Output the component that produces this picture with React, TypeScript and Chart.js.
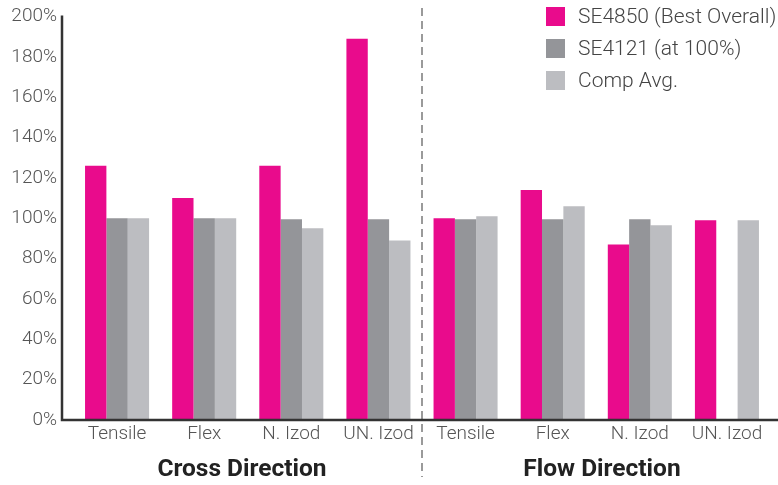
import React, { useEffect, useRef } from "react";
import { Chart, registerables } from "chart.js";

Chart.register(...registerables);

const categories = ["Tensile", "Flex", "N. Izod", "UN. Izod", "Tensile", "Flex", "N. Izod", "UN. Izod"];
const se4850 = [126, 110, 126, 189, 100, 114, 87, 99];
const se4121 = [100, 100, 99.5, 99.5, 99.5, 99.5, 99.5, null];
const compAvg = [100, 100, 95, 89, 101, 106, 96.5, 99];
const seriesLabels = ["SE4850 (Best Overall)", "SE4121 (at 100%)", "Comp Avg."];
const seriesColors = ["#E90B8C", "#949599", "#BCBDC1"];
const groupTitles = ["Cross Direction", "Flow Direction"];
const yTicks = [0, 20, 40, 60, 80, 100, 120, 140, 160, 180, 200];

const FONT = "Roboto, 'Noto Sans', sans-serif";

const decorPlugin = {
  id: "decor",
  afterDraw(chart: any) {
    const { ctx, chartArea, scales } = chart;
    const x = scales.x;
    const axisX = chartArea.left - 11.5;
    ctx.save();
    // dashed divider
    const midX = (x.getPixelForValue(3) + x.getPixelForValue(4)) / 2;
    ctx.strokeStyle = "#9a9a9a";
    ctx.lineWidth = 2;
    ctx.setLineDash([8, 5]);
    ctx.beginPath();
    ctx.moveTo(midX, 8);
    ctx.lineTo(midX, 477);
    ctx.stroke();
    ctx.setLineDash([]);
    // axes
    ctx.strokeStyle = "#333";
    ctx.lineWidth = 2.5;
    ctx.beginPath();
    ctx.moveTo(axisX, chartArea.top - 1);
    ctx.lineTo(axisX, chartArea.bottom);
    ctx.lineTo(chart.width, chartArea.bottom);
    ctx.stroke();
    // group titles
    ctx.fillStyle = "#222";
    ctx.font = `bold 24.5px ${FONT}`;
    ctx.textAlign = "center";
    ctx.textBaseline = "middle";
    ctx.fillText(groupTitles[0], (axisX + midX) / 2, 470);
    ctx.fillText(groupTitles[1], (midX + chart.width) / 2 + 2, 470);
    // legend
    ctx.font = `300 21px ${FONT}`;
    ctx.textAlign = "left";
    seriesLabels.forEach((lab, i) => {
      const cy = 16.5 + i * 32;
      ctx.fillStyle = seriesColors[i];
      ctx.fillRect(546, cy - 9.5, 19, 19);
      ctx.fillStyle = "#444";
      ctx.fillText(lab, 578, cy + 1);
    });
    ctx.restore();
  },
};

export default function App() {
  const ref = useRef<HTMLCanvasElement>(null);
  useEffect(() => {
    if (!ref.current) return;
    const chart = new Chart(ref.current, {
      type: "bar",
      data: {
        labels: categories,
        datasets: [
          { label: seriesLabels[0], data: se4850, backgroundColor: seriesColors[0] },
          { label: seriesLabels[1], data: se4121 as any, backgroundColor: seriesColors[1] },
          { label: seriesLabels[2], data: compAvg, backgroundColor: seriesColors[2] },
        ],
      },
      options: {
        animation: false,
        responsive: false,
        devicePixelRatio: 1,
        layout: { padding: { top: 16.5, right: 7.5, left: 0, bottom: 0 } },
        datasets: { bar: { barPercentage: 1, categoryPercentage: 0.735 } },
        plugins: { legend: { display: false }, tooltip: { enabled: false } },
        scales: {
          x: {
            grid: { display: false, drawTicks: false },
            border: { display: false },
            ticks: { color: "#555", font: { family: FONT, size: 19, weight: "300" as any }, padding: 3, maxRotation: 0, autoSkip: false },
            afterFit: (s: any) => { s.height = 65; s.paddingLeft = 0; s.paddingRight = 0; },
          },
          y: {
            min: 0,
            max: 200,
            afterBuildTicks: (s: any) => { s.ticks = yTicks.map((v) => ({ value: v })); },
            grid: { display: false, drawTicks: false },
            border: { display: false },
            ticks: {
              color: "#555",
              font: { family: FONT, size: 19, weight: "300" as any },
              padding: 16.5,
              callback: (v: any) => `${v}%`,
            },
            afterFit: (s: any) => { s.width = 73.5; s.paddingTop = 0; s.paddingBottom = 0; },
          },
        },
      },
      plugins: [decorPlugin],
    });
    return () => chart.destroy();
  }, []);
  return (
    <div style={{ position: "fixed", left: 0, top: 0, width: 778, height: 485, background: "#fff" }}>
      <canvas ref={ref} width={778} height={485} style={{ width: 778, height: 485 }} />
    </div>
  );
}
